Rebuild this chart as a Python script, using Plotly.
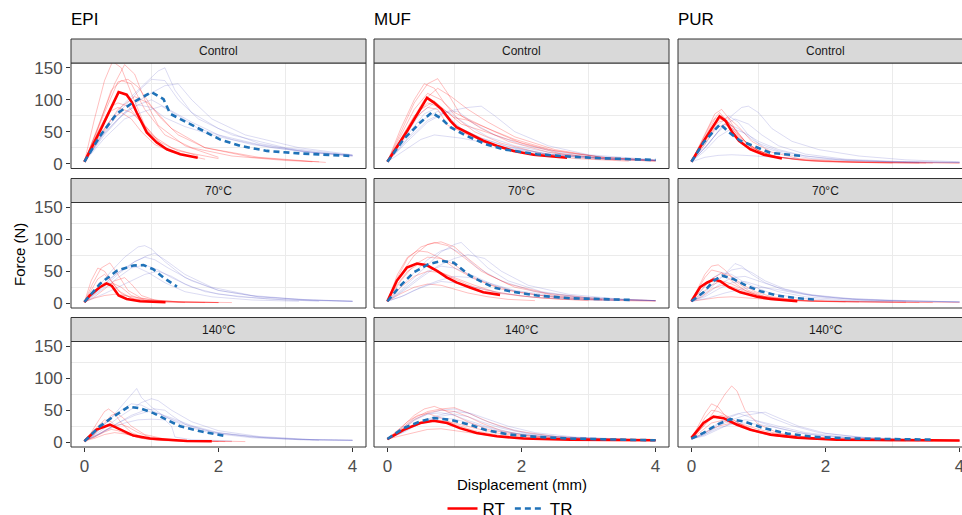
import plotly.graph_objects as go

# ---------------- data ----------------
MATERIALS = ["EPI", "MUF", "PUR"]
CONDITIONS = ["Control", "70°C", "140°C"]
GROUPS = ["RT", "TR"]
X_TICKS = [0, 2, 4]
Y_TICKS = [0, 50, 100, 150]
X_MINOR = [1, 3]
Y_MINOR = [25, 75, 125]

# mean curves (displacement mm, force N)
EPI_CONTROL_RT_MEAN = ([0, 0.25, 0.51, 0.63, 0.71, 0.78, 0.93, 1.08, 1.23, 1.43, 1.69],
                       [3, 55, 112, 108, 96, 80, 49, 33, 22.5, 14.7, 9.4])
EPI_CONTROL_TR_MEAN = ([0, 0.23, 0.48, 0.73, 1.0, 1.18, 1.28, 1.53, 1.78, 2.02, 2.32, 2.72, 3.22, 3.72, 4.0],
                       [3, 43, 78, 96, 112, 101, 78, 64.5, 51, 38, 28, 20, 16, 14, 12])
MUF_CONTROL_RT_MEAN = ([0, 0.3, 0.59, 0.69, 0.81, 0.94, 1.03, 1.23, 1.43, 1.63, 1.88, 2.18, 2.68],
                       [3, 52, 103, 96, 85, 67, 57, 46, 36, 28, 20, 14, 9.4])
MUF_CONTROL_TR_MEAN = ([0, 0.24, 0.49, 0.66, 0.81, 0.94, 1.18, 1.48, 1.73, 2.23, 2.73, 3.22, 4.0],
                       [3, 38, 64.5, 80, 70, 57, 43.5, 30, 22.5, 14.7, 11, 8.4, 5.8])
PUR_CONTROL_RT_MEAN = ([0, 0.2, 0.42, 0.51, 0.61, 0.71, 0.88, 1.08, 1.35],
                       [3, 38, 74, 67, 49, 36, 22.5, 14, 8])
PUR_CONTROL_TR_MEAN = ([0, 0.18, 0.43, 0.56, 0.73, 0.93, 1.18, 1.65],
                       [3, 33, 62, 49, 36, 28, 17, 12])
EPI_70_RT_MEAN = ([0, 0.08, 0.23, 0.33, 0.41, 0.51, 0.63, 0.83, 1.21],
                  [1.5, 12, 25, 31, 27, 12, 6.7, 3, 1.5])
EPI_70_TR_MEAN = ([0, 0.23, 0.48, 0.73, 0.88, 1.03, 1.18, 1.38],
                  [2, 30, 50.5, 59, 59.6, 53, 40, 26])
MUF_70_RT_MEAN = ([0, 0.14, 0.29, 0.44, 0.59, 0.74, 0.89, 1.03, 1.23, 1.43, 1.68],
                  [3, 35, 55.7, 62, 59.3, 50.5, 40, 32.5, 24.7, 17, 13])
MUF_70_TR_MEAN = ([0, 0.19, 0.39, 0.61, 0.81, 0.99, 1.08, 1.23, 1.38, 1.58, 1.83, 2.23, 2.73, 3.62],
                  [3, 27, 48, 61, 66, 63.4, 55.7, 43, 35, 24.7, 18.6, 12, 7.7, 5.2])
PUR_70_RT_MEAN = ([0, 0.13, 0.23, 0.33, 0.43, 0.56, 0.73, 0.98, 1.18, 1.58],
                  [3, 25, 32, 37, 34.5, 25, 17, 10, 6.7, 3])
PUR_70_TR_MEAN = ([0, 0.18, 0.33, 0.46, 0.63, 0.83, 1.03, 1.28, 1.58, 1.85],
                  [3, 17, 35, 43, 37.6, 27, 18.6, 11.9, 7.7, 5.7])
EPI_140_RT_MEAN = ([0, 0.18, 0.38, 0.53, 0.73, 0.98, 1.23, 1.53, 1.9],
                   [1.5, 19.7, 27.4, 19.7, 10.3, 5.7, 3.6, 2, 1.5])
EPI_140_TR_MEAN = ([0, 0.23, 0.43, 0.66, 0.83, 1.03, 1.23, 1.43, 1.73, 2.12],
                   [1.5, 24.8, 40, 55.4, 53, 45.5, 35, 24.8, 17, 9.3])
MUF_140_RT_MEAN = ([0, 0.24, 0.49, 0.69, 0.89, 1.08, 1.33, 1.63, 2.03, 2.73, 4.0],
                   [5, 19.4, 30, 33.6, 30, 22, 14.5, 9.3, 5.7, 4, 3])
MUF_140_TR_MEAN = ([0, 0.24, 0.49, 0.69, 0.94, 1.23, 1.48, 1.83, 2.23, 2.73, 3.47, 4.0],
                   [5, 22, 32.6, 37.8, 35, 27.4, 18.6, 11.9, 8.3, 5.7, 4, 3])
PUR_140_RT_MEAN = ([0, 0.18, 0.33, 0.48, 0.68, 0.88, 1.18, 1.58, 2.17, 3.17, 4.0],
                   [6.7, 30, 40, 37.6, 27.4, 19.6, 11.9, 7.2, 4, 3, 2.6])
PUR_140_TR_MEAN = ([0, 0.18, 0.38, 0.58, 0.78, 1.08, 1.43, 1.83, 2.42, 3.57],
                   [5.7, 14.5, 27.4, 36, 32.5, 22, 13.4, 8.3, 5.7, 4.1])

# individual specimen curves
EPI_CONTROL_RT_SPEC = [
    ([0, 0.2, 0.4, 0.55, 0.7, 0.9, 1.2, 1.6, 2.2, 3.0, 3.5], [3, 55, 115, 130, 125, 85, 45, 25, 12, 5, 3]),
    ([0, 0.25, 0.45, 0.6, 0.75, 0.9, 1.1, 1.5, 2.0], [3, 70, 125, 155, 140, 100, 60, 28, 10]),
    ([0, 0.2, 0.4, 0.5, 0.65, 0.8, 1.0, 1.3, 1.7], [3, 50, 90, 95, 90, 70, 45, 25, 12]),
    ([0, 0.2, 0.35, 0.5, 0.7, 0.9, 1.1, 1.4, 2.0], [3, 45, 80, 88, 80, 60, 35, 20, 8]),
    ([0, 0.25, 0.5, 0.75, 0.95, 1.15, 1.4, 1.8, 2.5, 3.4], [3, 45, 85, 105, 95, 70, 45, 25, 10, 3]),
    ([0, 0.2, 0.4, 0.55, 0.7, 0.85, 1.05, 1.3, 1.8], [3, 40, 70, 80, 70, 50, 30, 18, 7]),
    ([0, 0.3, 0.5, 0.65, 0.8, 1.0, 1.3, 1.8, 2.6, 3.6], [3, 80, 128, 132, 120, 90, 55, 25, 10, 2]),
    ([0, 0.15, 0.3, 0.42, 0.55, 0.7, 0.9, 1.2], [3, 70, 130, 160, 150, 110, 60, 25]),
]
EPI_CONTROL_TR_SPEC = [
    ([0, 0.3, 0.6, 0.9, 1.1, 1.2, 1.35, 1.6, 2.0, 2.6, 3.2, 4.0], [3, 55, 95, 125, 145, 150, 115, 80, 55, 32, 20, 12]),
    ([0, 0.3, 0.6, 0.85, 1.0, 1.2, 1.4, 1.7, 2.2, 3.0, 4.0], [3, 50, 90, 118, 132, 130, 100, 70, 45, 25, 13]),
    ([0, 0.3, 0.6, 0.9, 1.2, 1.4, 1.6, 1.9, 2.4, 3.2, 4.0], [3, 45, 80, 105, 122, 125, 100, 70, 45, 25, 14]),
    ([0, 0.3, 0.6, 0.8, 1.0, 1.2, 1.5, 1.9, 2.5, 3.3, 4.0], [3, 48, 80, 92, 88, 72, 58, 45, 30, 18, 12]),
    ([0, 0.3, 0.6, 0.9, 1.15, 1.4, 1.7, 2.2, 2.8, 3.5, 4.0], [3, 40, 70, 82, 90, 75, 55, 38, 25, 17, 13]),
    ([0, 0.25, 0.5, 0.75, 1.0, 1.25, 1.6, 2.0, 2.6, 3.4, 4.0], [3, 42, 70, 90, 100, 85, 65, 45, 30, 18, 13]),
]
MUF_CONTROL_RT_SPEC = [
    ([0, 0.2, 0.4, 0.6, 0.75, 0.9, 1.1, 1.4, 1.8, 2.4, 3.2, 4.0], [3, 50, 95, 125, 133, 110, 75, 55, 35, 18, 8, 4]),
    ([0, 0.2, 0.4, 0.55, 0.7, 0.85, 1.05, 1.3, 1.7, 2.3, 3.0, 4.0], [3, 55, 100, 125, 118, 95, 70, 50, 32, 16, 8, 4]),
    ([0, 0.2, 0.4, 0.6, 0.8, 1.0, 1.3, 1.6, 2.0, 2.6, 3.4], [3, 45, 85, 110, 100, 80, 65, 50, 32, 15, 6]),
    ([0, 0.2, 0.4, 0.6, 0.8, 1.0, 1.2, 1.5, 1.9, 2.5, 3.2, 4.0], [3, 40, 75, 95, 88, 72, 68, 55, 38, 20, 10, 5]),
    ([0, 0.25, 0.5, 0.7, 0.9, 1.1, 1.4, 1.8, 2.4, 3.2, 4.0], [3, 45, 85, 98, 80, 62, 52, 38, 22, 10, 5]),
    ([0, 0.2, 0.4, 0.6, 0.75, 0.9, 1.2, 1.5, 2.0, 2.8, 3.6], [3, 38, 70, 88, 85, 60, 45, 32, 18, 8, 4]),
    ([0, 0.3, 0.55, 0.75, 0.95, 1.2, 1.5, 1.9, 2.5, 3.2, 4.0], [3, 55, 100, 118, 105, 85, 65, 42, 22, 10, 5]),
]
MUF_CONTROL_TR_SPEC = [
    ([0, 0.3, 0.6, 0.9, 1.2, 1.4, 1.6, 1.9, 2.4, 3.0, 4.0], [3, 35, 65, 82, 88, 90, 75, 50, 28, 14, 6]),
    ([0, 0.3, 0.55, 0.75, 0.95, 1.2, 1.5, 1.9, 2.5, 3.2, 4.0], [3, 45, 78, 88, 78, 60, 42, 28, 16, 9, 5]),
    ([0, 0.3, 0.55, 0.75, 0.9, 1.1, 1.4, 1.8, 2.4, 3.2, 4.0], [3, 40, 70, 82, 75, 55, 40, 27, 15, 8, 5]),
    ([0, 0.25, 0.5, 0.7, 0.9, 1.1, 1.4, 1.8, 2.5, 3.3, 4.0], [3, 20, 38, 45, 42, 40, 34, 24, 13, 7, 5]),
    ([0, 0.3, 0.6, 0.85, 1.05, 1.3, 1.6, 2.0, 2.6, 3.4, 4.0], [3, 38, 68, 80, 82, 62, 45, 30, 17, 9, 6]),
    ([0, 0.3, 0.5, 0.7, 0.9, 1.1, 1.4, 1.8, 2.4, 3.2, 4.0], [3, 50, 80, 95, 70, 55, 40, 26, 15, 8, 5]),
]
PUR_CONTROL_RT_SPEC = [
    ([0, 0.2, 0.35, 0.45, 0.55, 0.7, 0.9, 1.2, 1.6, 2.2, 3.0, 4.0], [3, 45, 78, 85, 72, 45, 25, 12, 6, 3, 2, 1]),
    ([0, 0.2, 0.35, 0.45, 0.6, 0.8, 1.0, 1.3, 1.8, 2.6, 3.4], [3, 40, 70, 75, 60, 35, 20, 10, 5, 2, 1]),
    ([0, 0.2, 0.4, 0.5, 0.65, 0.8, 1.0, 1.3, 1.8, 2.5, 3.5], [3, 35, 65, 68, 55, 35, 20, 10, 4, 2, 1]),
    ([0, 0.15, 0.3, 0.42, 0.55, 0.7, 0.9, 1.2, 1.7, 2.5, 3.6], [3, 35, 65, 80, 65, 42, 25, 12, 5, 2, 1]),
    ([0, 0.2, 0.35, 0.5, 0.65, 0.85, 1.1, 1.5, 2.0, 3.0], [3, 30, 55, 62, 50, 30, 15, 7, 3, 1]),
    ([0, 0.2, 0.4, 0.55, 0.7, 0.9, 1.2, 1.6, 2.2, 3.2, 4.0], [3, 38, 68, 72, 58, 35, 18, 8, 4, 2, 1]),
]
PUR_CONTROL_TR_SPEC = [
    ([0, 0.2, 0.4, 0.6, 0.75, 0.85, 1.0, 1.2, 1.5, 1.9, 2.5, 3.2, 4.0], [3, 25, 50, 75, 88, 90, 80, 55, 35, 22, 12, 6, 3]),
    ([0, 0.2, 0.4, 0.55, 0.7, 0.85, 1.0, 1.3, 1.7, 2.3, 3.0, 4.0], [3, 30, 60, 75, 65, 45, 32, 20, 12, 6, 3, 2]),
    ([0, 0.2, 0.4, 0.55, 0.7, 0.9, 1.1, 1.4, 1.8, 2.5, 3.4], [3, 25, 50, 62, 55, 38, 25, 15, 8, 4, 2]),
    ([0, 0.2, 0.4, 0.6, 0.8, 1.0, 1.3, 1.7, 2.2, 3.0, 4.0], [3, 20, 42, 55, 48, 35, 22, 12, 6, 3, 2]),
    ([0, 0.2, 0.4, 0.6, 0.8, 1.0, 1.3, 1.6], [3, 10, 13, 14, 13, 12, 10, 8]),
    ([0, 0.25, 0.45, 0.65, 0.85, 1.05, 1.3, 1.7, 2.3, 3.2, 4.0], [3, 30, 58, 70, 62, 45, 28, 15, 7, 3, 2]),
]
EPI_70_RT_SPEC = [
    ([0, 0.12, 0.25, 0.38, 0.5, 0.65, 0.85, 1.1, 1.5, 2.2], [2, 30, 55, 63, 45, 20, 8, 4, 2, 1]),
    ([0, 0.1, 0.2, 0.3, 0.4, 0.55, 0.75, 1.0, 1.4, 2.0], [2, 35, 55, 50, 35, 15, 6, 3, 2, 1]),
    ([0, 0.15, 0.3, 0.45, 0.6, 0.7, 0.85, 1.05, 1.4, 2.0], [2, 10, 22, 35, 40, 30, 12, 5, 2, 1]),
    ([0, 0.1, 0.2, 0.3, 0.4, 0.5, 0.7, 1.0, 1.5], [2, 20, 38, 45, 35, 20, 8, 3, 1]),
    ([0, 0.15, 0.3, 0.45, 0.6, 0.8, 1.0, 1.4, 2.0], [2, 8, 12, 14, 12, 8, 5, 2, 1]),
    ([0, 0.15, 0.3, 0.45, 0.55, 0.7, 0.9, 1.2, 1.8], [2, 18, 32, 30, 25, 12, 5, 2, 1]),
]
EPI_70_TR_SPEC = [
    ([0, 0.2, 0.4, 0.6, 0.8, 0.9, 1.0, 1.2, 1.5, 2.0, 2.6, 3.3, 4.0], [2, 25, 50, 72, 88, 90, 85, 65, 40, 20, 10, 5, 3]),
    ([0, 0.25, 0.5, 0.75, 0.95, 1.05, 1.2, 1.5, 1.9, 2.5, 3.2, 4.0], [2, 22, 45, 65, 75, 78, 68, 45, 25, 12, 6, 3]),
    ([0, 0.25, 0.5, 0.75, 0.9, 1.05, 1.25, 1.6, 2.0, 2.6, 3.4, 4.0], [2, 25, 48, 65, 72, 68, 55, 35, 20, 10, 5, 3]),
    ([0, 0.25, 0.5, 0.7, 0.9, 1.1, 1.3, 1.6, 2.0, 2.7, 3.5], [2, 20, 40, 55, 60, 52, 40, 25, 14, 7, 3]),
    ([0, 0.2, 0.4, 0.6, 0.75, 0.95, 1.2, 1.5, 1.9, 2.5, 3.2], [2, 20, 40, 55, 58, 48, 32, 18, 10, 5, 3]),
    ([0, 0.3, 0.6, 0.9, 1.1, 1.3, 1.5, 1.8, 2.3, 3.0, 4.0], [2, 15, 30, 45, 50, 42, 30, 18, 10, 5, 3]),
]
MUF_70_RT_SPEC = [
    ([0, 0.15, 0.3, 0.5, 0.7, 0.9, 1.1, 1.4, 1.8, 2.4, 3.2, 4.0], [3, 40, 70, 88, 95, 90, 75, 50, 30, 15, 7, 4]),
    ([0, 0.15, 0.3, 0.45, 0.6, 0.8, 1.0, 1.3, 1.7, 2.3, 3.0, 4.0], [3, 45, 72, 82, 80, 70, 55, 38, 22, 12, 6, 4]),
    ([0, 0.2, 0.4, 0.6, 0.8, 1.0, 1.2, 1.5, 1.9, 2.5, 3.2], [3, 35, 60, 72, 70, 60, 45, 30, 18, 9, 5]),
    ([0, 0.15, 0.3, 0.45, 0.6, 0.8, 1.0, 1.3, 1.7, 2.3, 3.0], [3, 30, 50, 60, 58, 48, 38, 25, 15, 8, 4]),
    ([0, 0.2, 0.4, 0.6, 0.8, 1.0, 1.3, 1.6, 2.0, 2.6, 3.4, 4.0], [3, 25, 42, 50, 48, 40, 28, 18, 11, 6, 4, 3]),
    ([0, 0.2, 0.4, 0.6, 0.8, 1.0, 1.2, 1.5, 1.8, 2.2], [3, 15, 25, 30, 28, 22, 16, 10, 6, 4]),
    ([0, 0.2, 0.4, 0.6, 0.8, 1.0, 1.2, 1.5, 1.9, 2.5, 3.2], [3, 45, 75, 92, 96, 88, 70, 45, 25, 12, 6]),
]
MUF_70_TR_SPEC = [
    ([0, 0.2, 0.4, 0.6, 0.8, 1.0, 1.1, 1.25, 1.5, 1.8, 2.3, 3.0, 4.0], [3, 20, 40, 60, 80, 92, 95, 80, 55, 35, 18, 8, 4]),
    ([0, 0.2, 0.4, 0.6, 0.8, 0.95, 1.1, 1.35, 1.7, 2.2, 2.9, 4.0], [3, 25, 48, 68, 82, 86, 78, 55, 35, 18, 9, 4]),
    ([0, 0.25, 0.5, 0.75, 1.0, 1.2, 1.45, 1.7, 2.1, 2.7, 3.5, 4.0], [3, 20, 40, 58, 70, 76, 70, 50, 28, 14, 6, 4]),
    ([0, 0.2, 0.4, 0.6, 0.8, 1.0, 1.3, 1.6, 2.0, 2.6, 3.4], [3, 18, 35, 50, 58, 55, 42, 28, 16, 8, 4]),
    ([0, 0.25, 0.5, 0.75, 1.0, 1.25, 1.5, 1.9, 2.5, 3.2, 4.0], [3, 12, 25, 35, 42, 40, 32, 20, 11, 6, 4]),
    ([0, 0.2, 0.4, 0.6, 0.8, 1.0, 1.3, 1.7, 2.2, 3.0, 4.0], [3, 10, 20, 28, 34, 32, 25, 16, 9, 5, 4]),
]
PUR_70_RT_SPEC = [
    ([0, 0.1, 0.2, 0.3, 0.4, 0.5, 0.65, 0.85, 1.1, 1.5, 2.0, 2.8, 3.6], [3, 25, 45, 58, 60, 52, 35, 20, 10, 5, 3, 2, 1]),
    ([0, 0.1, 0.2, 0.3, 0.45, 0.6, 0.8, 1.0, 1.3, 1.8, 2.5, 3.4], [3, 22, 40, 52, 48, 35, 20, 12, 6, 3, 2, 1]),
    ([0, 0.15, 0.3, 0.45, 0.6, 0.75, 0.95, 1.2, 1.6, 2.2, 3.0, 4.0], [3, 20, 38, 47, 42, 30, 18, 10, 5, 3, 2, 1]),
    ([0, 0.15, 0.3, 0.45, 0.6, 0.8, 1.0, 1.3, 1.7, 2.4, 3.2], [3, 15, 28, 35, 30, 20, 12, 7, 4, 2, 1]),
    ([0, 0.15, 0.3, 0.45, 0.6, 0.8, 1.0, 1.3, 1.8, 2.5], [3, 10, 22, 28, 26, 18, 12, 7, 3, 2]),
    ([0, 0.2, 0.4, 0.6, 0.8, 1.0, 1.3, 1.7, 2.3], [3, 6, 9, 10, 9, 7, 5, 3, 2]),
]
PUR_70_TR_SPEC = [
    ([0, 0.2, 0.4, 0.55, 0.65, 0.75, 0.9, 1.1, 1.4, 1.8, 2.4, 3.2, 4.0], [3, 15, 35, 52, 62, 58, 45, 32, 20, 12, 6, 3, 2]),
    ([0, 0.2, 0.4, 0.6, 0.75, 0.9, 1.1, 1.4, 1.8, 2.4, 3.2, 4.0], [3, 18, 38, 52, 55, 48, 35, 22, 13, 7, 4, 2]),
    ([0, 0.15, 0.3, 0.45, 0.6, 0.75, 0.95, 1.2, 1.6, 2.2, 3.0], [3, 20, 38, 48, 45, 35, 25, 15, 8, 4, 2]),
    ([0, 0.2, 0.4, 0.6, 0.8, 1.0, 1.3, 1.7, 2.2, 3.0, 4.0], [3, 12, 28, 40, 42, 35, 24, 14, 8, 4, 2]),
    ([0, 0.2, 0.4, 0.6, 0.8, 1.0, 1.3, 1.7, 2.3, 3.2], [3, 10, 22, 32, 34, 28, 18, 10, 5, 3]),
    ([0, 0.25, 0.5, 0.75, 1.0, 1.25, 1.6, 2.0, 2.6, 3.4, 4.0], [3, 8, 16, 22, 25, 22, 15, 9, 5, 3, 2]),
]
EPI_140_RT_SPEC = [
    ([0, 0.1, 0.2, 0.3, 0.36, 0.45, 0.55, 0.7, 0.9, 1.2, 1.6, 2.2], [2, 15, 32, 48, 52, 45, 30, 15, 7, 3, 2, 1]),
    ([0, 0.15, 0.3, 0.4, 0.48, 0.58, 0.7, 0.9, 1.2, 1.6, 2.1], [2, 12, 30, 42, 45, 38, 25, 12, 5, 2, 1]),
    ([0, 0.1, 0.2, 0.3, 0.4, 0.5, 0.65, 0.85, 1.1, 1.5], [2, 12, 25, 35, 32, 22, 12, 6, 3, 1]),
    ([0, 0.15, 0.3, 0.45, 0.55, 0.65, 0.8, 1.0, 1.3, 1.8], [2, 8, 18, 26, 28, 24, 15, 7, 3, 1]),
    ([0, 0.15, 0.3, 0.4, 0.5, 0.65, 0.85, 1.1, 1.5, 2.0], [2, 8, 16, 20, 18, 12, 6, 3, 2, 1]),
    ([0, 0.15, 0.3, 0.45, 0.6, 0.8, 1.0, 1.3, 1.8, 2.4], [2, 6, 12, 15, 13, 9, 5, 3, 2, 1]),
]
EPI_140_TR_SPEC = [
    ([0, 0.2, 0.4, 0.6, 0.72, 0.78, 0.85, 1.0, 1.2, 1.5, 1.9, 2.5, 3.2, 4.0], [2, 18, 38, 62, 78, 84, 70, 55, 40, 25, 14, 7, 4, 3]),
    ([0, 0.25, 0.5, 0.7, 0.85, 1.0, 1.1, 1.3, 1.6, 2.0, 2.6, 3.4, 4.0], [2, 18, 38, 52, 62, 68, 65, 50, 32, 18, 9, 4, 3]),
    ([0, 0.2, 0.4, 0.55, 0.7, 0.85, 1.0, 1.25, 1.6, 2.0, 2.7, 3.5], [2, 18, 38, 50, 60, 58, 50, 38, 24, 14, 7, 3]),
    ([0, 0.25, 0.5, 0.7, 0.9, 1.05, 1.2, 1.3, 1.5, 1.9, 2.5, 3.2, 4.0], [2, 14, 30, 42, 50, 52, 50, 42, 28, 16, 8, 4, 3]),
    ([0, 0.2, 0.4, 0.6, 0.8, 1.0, 1.2, 1.3, 1.35, 1.6, 2.2], [2, 12, 22, 30, 35, 36, 35, 25, 8, 4, 2]),
    ([0, 0.25, 0.5, 0.75, 0.95, 1.1, 1.3, 1.6, 2.0, 2.6, 3.4, 4.0], [2, 15, 30, 42, 48, 45, 38, 26, 15, 8, 4, 3]),
]
MUF_140_RT_SPEC = [
    ([0, 0.2, 0.4, 0.55, 0.7, 0.85, 1.0, 1.2, 1.5, 1.9, 2.5, 3.2, 4.0], [5, 22, 42, 52, 56, 50, 42, 32, 20, 12, 7, 4, 3]),
    ([0, 0.2, 0.4, 0.6, 0.8, 1.0, 1.2, 1.4, 1.7, 2.1, 2.7, 3.4, 4.0], [5, 18, 35, 46, 50, 48, 40, 30, 18, 10, 6, 4, 3]),
    ([0, 0.15, 0.3, 0.45, 0.6, 0.8, 1.0, 1.3, 1.7, 2.2, 3.0, 4.0], [5, 18, 32, 42, 45, 38, 28, 18, 10, 6, 4, 3]),
    ([0, 0.2, 0.4, 0.6, 0.8, 1.0, 1.3, 1.7, 2.2, 3.0, 4.0], [5, 15, 26, 32, 34, 30, 22, 13, 7, 4, 3]),
    ([0, 0.2, 0.4, 0.6, 0.8, 1.0, 1.3, 1.7, 2.3, 3.2, 4.0], [5, 10, 16, 20, 21, 18, 13, 8, 5, 3, 3]),
    ([0, 0.2, 0.4, 0.6, 0.8, 1.0, 1.2, 1.5, 1.9, 2.5, 3.2, 4.0], [5, 20, 38, 48, 52, 54, 46, 32, 18, 9, 5, 3]),
]
MUF_140_TR_SPEC = [
    ([0, 0.2, 0.4, 0.6, 0.8, 1.0, 1.2, 1.4, 1.7, 2.1, 2.6, 3.3, 4.0], [5, 18, 34, 44, 50, 52, 46, 36, 24, 14, 8, 5, 3]),
    ([0, 0.2, 0.4, 0.6, 0.8, 1.0, 1.2, 1.5, 1.9, 2.4, 3.0, 4.0], [5, 20, 36, 44, 46, 42, 34, 24, 14, 8, 5, 3]),
    ([0, 0.25, 0.5, 0.75, 1.0, 1.2, 1.4, 1.7, 2.1, 2.6, 3.3, 4.0], [5, 16, 30, 40, 44, 40, 32, 22, 13, 8, 5, 3]),
    ([0, 0.2, 0.4, 0.6, 0.8, 1.0, 1.3, 1.7, 2.2, 2.9, 4.0], [5, 14, 26, 34, 38, 36, 28, 17, 10, 6, 3]),
    ([0, 0.25, 0.5, 0.75, 1.0, 1.25, 1.5, 1.8, 2.2, 2.8, 3.5, 4.0], [5, 18, 32, 42, 48, 45, 36, 25, 15, 8, 5, 3]),
]
PUR_140_RT_SPEC = [
    ([0, 0.2, 0.35, 0.5, 0.6, 0.68, 0.8, 1.0, 1.3, 1.7, 2.3, 3.0, 4.0], [5, 28, 50, 75, 88, 80, 50, 28, 14, 8, 5, 3, 2]),
    ([0, 0.1, 0.2, 0.3, 0.4, 0.5, 0.65, 0.85, 1.1, 1.5, 2.0, 2.8, 3.6], [5, 25, 45, 60, 55, 42, 30, 20, 12, 7, 4, 3, 2]),
    ([0, 0.1, 0.2, 0.3, 0.4, 0.55, 0.7, 0.9, 1.2, 1.6, 2.2, 3.0, 4.0], [5, 20, 38, 50, 48, 40, 30, 20, 12, 7, 4, 3, 2]),
    ([0, 0.15, 0.3, 0.45, 0.6, 0.8, 1.0, 1.3, 1.7, 2.3, 3.2], [5, 22, 38, 42, 36, 25, 16, 10, 6, 3, 2]),
    ([0, 0.15, 0.3, 0.45, 0.6, 0.8, 1.0, 1.3, 1.8, 2.5, 3.4], [5, 18, 30, 34, 30, 22, 15, 9, 5, 3, 2]),
    ([0, 0.2, 0.4, 0.6, 0.8, 1.0, 1.3, 1.7, 2.3, 3.0], [5, 15, 25, 30, 27, 20, 13, 8, 4, 2]),
]
PUR_140_TR_SPEC = [
    ([0, 0.2, 0.4, 0.6, 0.75, 0.9, 1.05, 1.2, 1.5, 1.9, 2.5, 3.2, 4.0], [5, 14, 28, 40, 46, 48, 46, 38, 26, 15, 8, 4, 3]),
    ([0, 0.2, 0.4, 0.6, 0.8, 1.0, 1.1, 1.3, 1.6, 2.0, 2.6, 3.4, 4.0], [5, 12, 25, 35, 42, 46, 47, 38, 25, 14, 7, 4, 3]),
    ([0, 0.2, 0.4, 0.55, 0.7, 0.85, 1.0, 1.3, 1.7, 2.3, 3.0, 4.0], [5, 15, 30, 40, 45, 40, 32, 22, 13, 7, 4, 3]),
    ([0, 0.2, 0.4, 0.6, 0.8, 1.0, 1.3, 1.7, 2.2, 2.9, 3.8], [5, 10, 20, 30, 35, 33, 25, 15, 9, 5, 3]),
    ([0, 0.2, 0.4, 0.6, 0.8, 1.0, 1.3, 1.6, 2.0, 2.6, 3.4], [5, 12, 22, 28, 30, 28, 22, 15, 9, 5, 3]),
]

MEANS = {
    ("EPI", "Control"): (EPI_CONTROL_RT_MEAN, EPI_CONTROL_TR_MEAN),
    ("MUF", "Control"): (MUF_CONTROL_RT_MEAN, MUF_CONTROL_TR_MEAN),
    ("PUR", "Control"): (PUR_CONTROL_RT_MEAN, PUR_CONTROL_TR_MEAN),
    ("EPI", "70°C"): (EPI_70_RT_MEAN, EPI_70_TR_MEAN),
    ("MUF", "70°C"): (MUF_70_RT_MEAN, MUF_70_TR_MEAN),
    ("PUR", "70°C"): (PUR_70_RT_MEAN, PUR_70_TR_MEAN),
    ("EPI", "140°C"): (EPI_140_RT_MEAN, EPI_140_TR_MEAN),
    ("MUF", "140°C"): (MUF_140_RT_MEAN, MUF_140_TR_MEAN),
    ("PUR", "140°C"): (PUR_140_RT_MEAN, PUR_140_TR_MEAN),
}
SPECS = {
    ("EPI", "Control"): (EPI_CONTROL_RT_SPEC, EPI_CONTROL_TR_SPEC),
    ("MUF", "Control"): (MUF_CONTROL_RT_SPEC, MUF_CONTROL_TR_SPEC),
    ("PUR", "Control"): (PUR_CONTROL_RT_SPEC, PUR_CONTROL_TR_SPEC),
    ("EPI", "70°C"): (EPI_70_RT_SPEC, EPI_70_TR_SPEC),
    ("MUF", "70°C"): (MUF_70_RT_SPEC, MUF_70_TR_SPEC),
    ("PUR", "70°C"): (PUR_70_RT_SPEC, PUR_70_TR_SPEC),
    ("EPI", "140°C"): (EPI_140_RT_SPEC, EPI_140_TR_SPEC),
    ("MUF", "140°C"): (MUF_140_RT_SPEC, MUF_140_TR_SPEC),
    ("PUR", "140°C"): (PUR_140_RT_SPEC, PUR_140_TR_SPEC),
}

# ---------------- styling / geometry ----------------
REF_W, REF_H = 962, 515          # reference picture size (layout coordinates below)
W, H = 962, 527                  # figure size
FONT = "Liberation Sans, Arial, Helvetica, sans-serif"
COL_PX = [(71, 366), (374, 669), (678, 973)]
ROW_PX = [(63, 168.5), (202.5, 308), (341.5, 447)]
STRIP_H = 24
X_LO, X_HI = -0.2, 4.2
Y_RANGE = [-7.5, 157.5]
PPU = (COL_PX[0][1] - COL_PX[0][0]) / (X_HI - X_LO)


def fx(px):
    return px / REF_W


def fy(py):
    return 1 - py / REF_H


SPEC_COLOR = {"RT": "rgba(255,0,0,0.25)", "TR": "rgba(80,80,195,0.2)"}
MEAN_COLOR = {"RT": "#FF0000", "TR": "#1F72B8"}
MEAN_DASH = {"RT": "solid", "TR": "6px,4px"}
GRID = "#EBEBEB"
DARK = "#333333"

fig = go.Figure()
layout = dict(width=W, height=H, autosize=False, margin=dict(l=0, r=0, t=0, b=0),
              paper_bgcolor="white", plot_bgcolor="white",
              template="none", font=dict(family=FONT, color="#000000"))
shapes, annotations = [], []
legend_done = set()

for r, cond in enumerate(CONDITIONS):
    for c, mat in enumerate(MATERIALS):
        k = r * 3 + c + 1
        xa = "x" if k == 1 else f"x{k}"
        ya = "y" if k == 1 else f"y{k}"
        x0px, x1px = COL_PX[c]
        top, bot = ROW_PX[r]
        vis_right = min(x1px, REF_W)
        xr = [X_LO, X_LO + (vis_right - x0px) / PPU]
        layout["xaxis" if k == 1 else f"xaxis{k}"] = dict(
            domain=[fx(x0px), fx(vis_right)], range=xr, anchor=ya,
            showgrid=False, zeroline=False, showline=False, automargin=False,
            tickvals=X_TICKS, ticktext=[str(v) for v in X_TICKS],
            showticklabels=(r == 2), ticks="outside" if r == 2 else "",
            ticklen=4, tickwidth=1, tickcolor=DARK, ticklabelstandoff=0,
            ticklabeloverflow="allow",
            tickfont=dict(size=17, color="#4D4D4D", family=FONT),
            minor=dict(tickvals=X_MINOR, showgrid=True, gridcolor=GRID, gridwidth=1, ticks=""),
        )
        layout["yaxis" if k == 1 else f"yaxis{k}"] = dict(
            domain=[fy(bot), fy(top)], range=Y_RANGE, anchor=xa,
            showgrid=False, zeroline=False, showline=False, automargin=False,
            tickvals=Y_TICKS, ticktext=[str(v) for v in Y_TICKS],
            showticklabels=(c == 0), ticks="outside" if c == 0 else "",
            ticklen=4, tickwidth=1, tickcolor=DARK,
            tickfont=dict(size=17, color="#4D4D4D", family=FONT),
            minor=dict(tickvals=Y_MINOR, showgrid=True, gridcolor=GRID, gridwidth=1, ticks=""),
        )
        for g, specs in zip(GROUPS, SPECS[(mat, cond)]):
            for sx, sy in specs:
                fig.add_trace(go.Scatter(x=sx, y=sy, mode="lines", xaxis=xa, yaxis=ya,
                                         line=dict(color=SPEC_COLOR[g], width=1),
                                         showlegend=False, hoverinfo="skip"))
        for g, (mx, my) in zip(GROUPS, MEANS[(mat, cond)]):
            fig.add_trace(go.Scatter(x=mx, y=my, mode="lines", xaxis=xa, yaxis=ya, name=g,
                                     legendgroup=g, showlegend=g not in legend_done,
                                     line=dict(color=MEAN_COLOR[g], width=2.6, dash=MEAN_DASH[g])))
            legend_done.add(g)
        shapes.append(dict(type="rect", xref="paper", yref="paper", layer="above",
                           x0=fx(x0px), x1=fx(x1px), y0=fy(bot), y1=fy(top),
                           line=dict(color=DARK, width=1), fillcolor="rgba(0,0,0,0)"))
        shapes.append(dict(type="rect", xref="paper", yref="paper", layer="above",
                           x0=fx(x0px), x1=fx(x1px), y0=fy(top), y1=fy(top - STRIP_H),
                           line=dict(color=DARK, width=1), fillcolor="#D9D9D9"))
        annotations.append(dict(text=cond, xref="paper", yref="paper", showarrow=False,
                                x=fx((x0px + x1px) / 2), y=fy(top - STRIP_H / 2),
                                xanchor="center", yanchor="middle",
                                font=dict(size=12, color="#1A1A1A", family=FONT)))

for c, mat in enumerate(MATERIALS):
    annotations.append(dict(text=mat, xref="paper", yref="paper", showarrow=False,
                            x=fx(COL_PX[c][0] - 2), y=fy(20), xanchor="left", yanchor="middle",
                            font=dict(size=17, color="#000000", family=FONT)))
annotations.append(dict(text="Displacement (mm)", xref="paper", yref="paper", showarrow=False,
                        x=fx((COL_PX[0][0] + COL_PX[2][1]) / 2), y=fy(484),
                        xanchor="center", yanchor="middle",
                        font=dict(size=15, color="#000000", family=FONT)))
annotations.append(dict(text="Force (N)", xref="paper", yref="paper", showarrow=False,
                        x=fx(19), y=fy(255), textangle=-90,
                        xanchor="center", yanchor="middle",
                        font=dict(size=15, color="#000000", family=FONT)))

layout["shapes"] = shapes
layout["annotations"] = annotations
layout["showlegend"] = True
layout["legend"] = dict(orientation="h", x=fx(510.5), xanchor="center", y=fy(509), yanchor="middle",
                        font=dict(size=17, family=FONT, color="#000000"),
                        bgcolor="rgba(0,0,0,0)", tracegroupgap=0, itemwidth=30)
fig.update_layout(**layout)
fig.write_html("out.html",
               config={"responsive": False, "displayModeBar": False},
               post_script="document.body.style.margin='0';document.body.style.overflow='hidden';")
